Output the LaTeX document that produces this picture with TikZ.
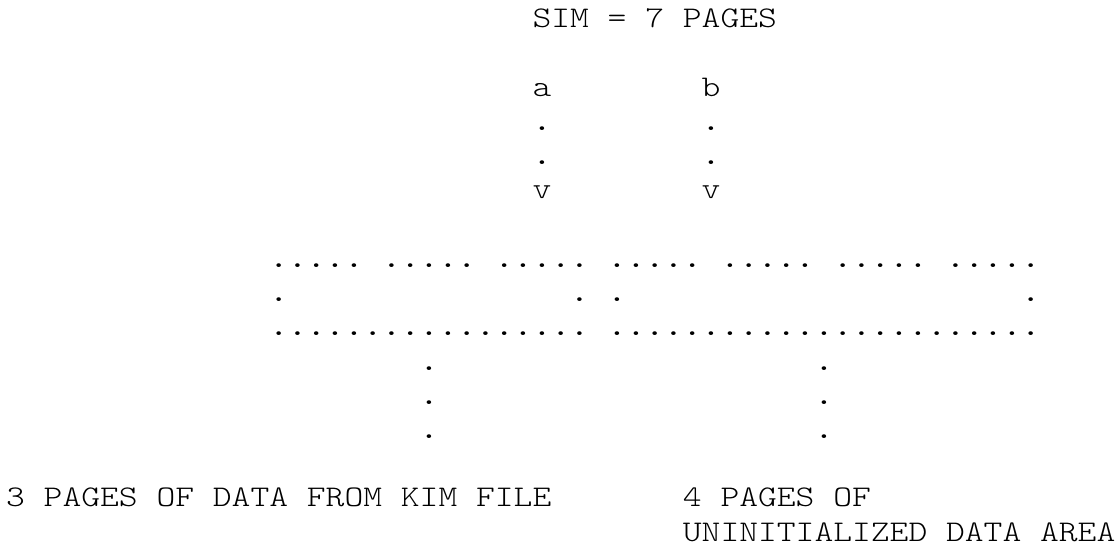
\documentclass[tikz,border=0pt]{standalone}
\usepackage{fontspec}
\usepackage{tikz}
\newfontfamily\kimfont{lmmonolt10-regular.otf}[FakeStretch=1.1937]
\newfontfamily\kimdotfont{lmmono10-regular.otf}[FakeStretch=1.1937]
\newcommand\kimtt{\kimfont\fontsize{30pt}{34.2pt}\selectfont}
\newcommand\kimdots{\kimdotfont\fontsize{30pt}{34.2pt}\selectfont}
\tikzset{
    ascii/.style={font=\kimtt, anchor=base west, inner sep=0pt, outer sep=0pt},
    dotrow/.style={ascii, font=\kimdots}
}

\begin{document}
\begin{tikzpicture}[x=18.8pt,y=-34.2pt]
    \useasboundingbox (-6.1pt,28pt) rectangle (1111.9pt,-517pt);
    \node[ascii] (sim) at (28,0) {SIM = 7 PAGES};
    \node[ascii] (a) at (28,2) {a};
    \node[ascii] (b) at (37,2) {b};
    \foreach \c/\k in {28/a,37/b} {
        \foreach \r in {3,4}
          \node[dotrow] (\k dot\r) at (\c,\r) {.};
        \node[ascii] (v\k) at (\c,5) {v};
    }

    % seven pages of the sim
    \foreach \c [count=\k] in {14,20,...,50}
      \node[dotrow] (page\k) at (\c,7) {.....};
    \foreach \c/\k in {14/kl,30/kr,32/ul,54/ur}
      \node[dotrow] (side\k) at (\c,8) {.};
    \node[dotrow] (kimbase) at (14,9) {.................};
    \node[dotrow] (uninbase) at (32,9) {.......................};

    \foreach \c/\k in {22/kim,43/unin}
      \foreach \r in {10,11,12}
        \node[dotrow] (\k dot\r) at (\c,\r) {.};

    \node[ascii] (kimtext) at (0,14) {3 PAGES OF DATA FROM KIM FILE};
    \node[ascii] (unintext) at (36,14) {4 PAGES OF};
    \node[ascii] (unintext2) at (36,15) {UNINITIALIZED DATA AREA};
\end{tikzpicture}
\end{document}
